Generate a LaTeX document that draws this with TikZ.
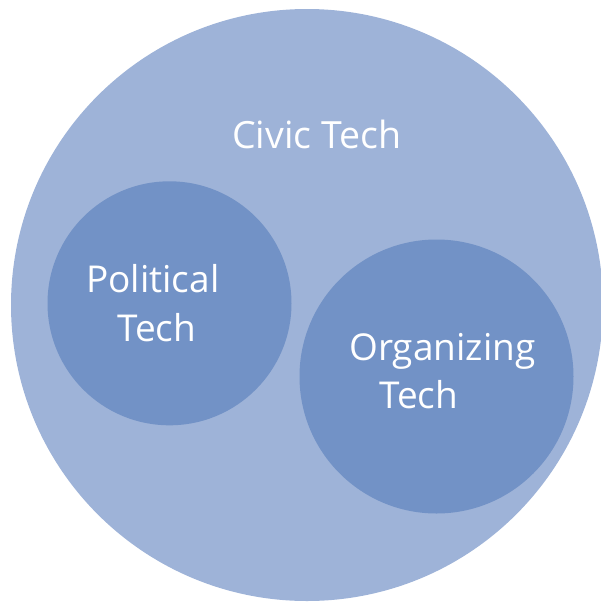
\documentclass[tikz,border=0pt]{standalone}
\usepackage{fontspec}
\setmainfont{Open Sans}
\usetikzlibrary{positioning}
\definecolor{civicblue}{RGB}{158,179,216}
\definecolor{innerblue}{RGB}{114,146,198}

\begin{document}
\begin{tikzpicture}[
  x=1pt, y=-1pt,
  every node/.style={text=white, inner sep=0pt},
  bubble/.style={circle, minimum size=#1},
  tag/.style={font=\fontsize{37}{48.5}\selectfont, align=left, anchor=base west}
]
\useasboundingbox (0,0) rectangle (601,603);

\node[bubble=592pt, fill=civicblue] (civic) at (307,305) {};
\node[bubble=244pt, fill=innerblue] (political) at (169.5,303.3) {};
\node[bubble=274pt, fill=innerblue] (organizing) at (436.5,376.5) {};

% base anchor sits on the last line
\node[tag, font=\fontsize{37.5}{46}\selectfont] (civictext) at (232,148) {Civic Tech};
\node[tag] (politicaltext) at (86,341) {Political\\\hspace*{31pt}Tech};
\node[tag] (organizingtext) at (349,408.5) {Organizing\\\hspace*{30pt}Tech};

\end{tikzpicture}
\end{document}
